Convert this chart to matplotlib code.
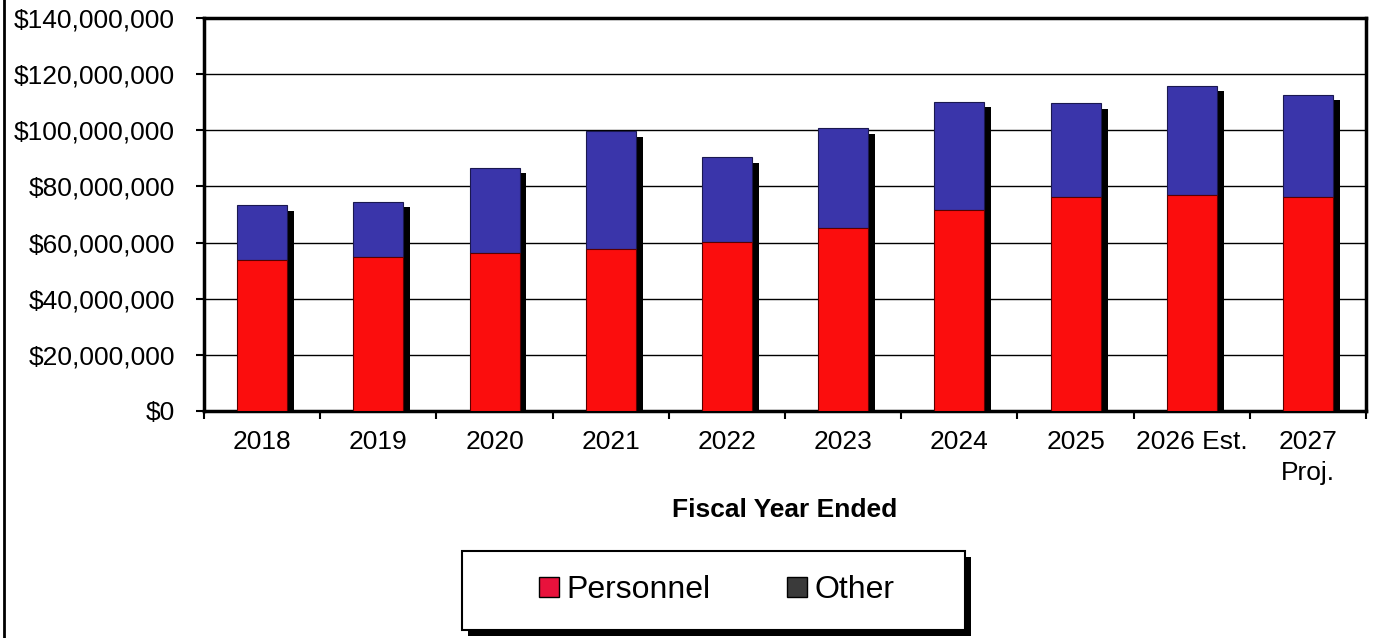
import matplotlib
matplotlib.use("Agg")
import matplotlib.pyplot as plt
import matplotlib.patheffects as pe
from matplotlib.patches import Rectangle, Patch
from matplotlib.lines import Line2D
from matplotlib.ticker import FuncFormatter, MultipleLocator
import numpy as np

plt.rcParams['font.family'] = ['Liberation Sans', 'DejaVu Sans']

years = ['2018', '2019', '2020', '2021', '2022', '2023', '2024', '2025',
         '2026 Est.', '2027\nProj.']
personnel = [53.8, 54.9, 56.3, 57.7, 60.2, 65.2, 71.6, 76.2, 76.9, 76.2]
total = [73.4, 74.5, 86.6, 99.7, 90.5, 100.8, 110.1, 109.7, 115.8, 112.6]
personnel = np.array(personnel) * 1e6
other = np.array(total) * 1e6 - personnel

red = '#fb0d0d'
blue = '#3a35aa'

fig = plt.figure(figsize=(13.76, 6.38), dpi=100)
ax = fig.add_axes([0.1483, 0.3558, 0.8445, 0.616])

x = np.arange(len(years))
shadow = [pe.SimplePatchShadow(offset=(5, -4), shadow_rgbFace='black', alpha=1), pe.Normal()]

b_other = ax.bar(x, other, 0.43, bottom=personnel, color=blue, edgecolor='#1a1850',
                 linewidth=0.8, zorder=2)
b_pers = ax.bar(x, personnel, 0.43, color=red, edgecolor='#5a0000',
                linewidth=0.8, zorder=3)
for bars in (b_other, b_pers):
    for p in bars:
        p.set_path_effects(shadow)

ax.set_xlim(-0.5, len(years) - 0.5)
ax.set_ylim(0, 140e6)
ax.yaxis.set_major_locator(MultipleLocator(20e6))
ax.yaxis.set_major_formatter(FuncFormatter(lambda v, pos: '${:,.0f}'.format(v)))
ax.grid(axis='y', color='black', linewidth=1)
ax.set_axisbelow(True)

ax.set_xticks(x)
ax.set_xticklabels(years, fontsize=19, va='top', linespacing=1.35)
ax.set_xticks(np.arange(len(years) + 1) - 0.5, minor=True)
ax.tick_params(axis='x', which='major', length=0, pad=14)
ax.tick_params(axis='x', which='minor', length=6, width=1.5, direction='out')
ax.tick_params(axis='y', labelsize=19, length=6, width=1.5, direction='out', pad=15)

for s in ax.spines.values():
    s.set_linewidth(2.5)

fig.text(0.1483 + 0.8445 / 2, 1 - 510 / 638, 'Fiscal Year Ended', fontsize=19,
         fontweight='bold', ha='center', va='center')

# legend box with drop shadow
box = Rectangle((462 / 1376, 1 - 630 / 638), 503 / 1376, 79 / 638,
                transform=fig.transFigure, facecolor='white', edgecolor='black',
                linewidth=1.5, zorder=5)
box.set_path_effects([pe.SimplePatchShadow(offset=(4, -4), shadow_rgbFace='black', alpha=1),
                      pe.Normal()])
fig.patches.append(box)

handles = [Patch(facecolor='#e8123c', edgecolor='black', linewidth=1),
           Patch(facecolor='#3a3a3a', edgecolor='black', linewidth=1)]
leg = fig.legend(handles, ['Personnel', 'Other'], loc='center',
                 bbox_to_anchor=(717 / 1376, 1 - 590 / 638), ncol=2, frameon=False,
                 fontsize=23, handlelength=0.6, handleheight=0.6, handletextpad=0.25,
                 columnspacing=2.4)
leg.set_zorder(6)

fig.add_artist(Line2D([0.003, 0.003], [0, 1], transform=fig.transFigure,
                      color='black', linewidth=2))

fig.savefig('out.png', dpi=100)
